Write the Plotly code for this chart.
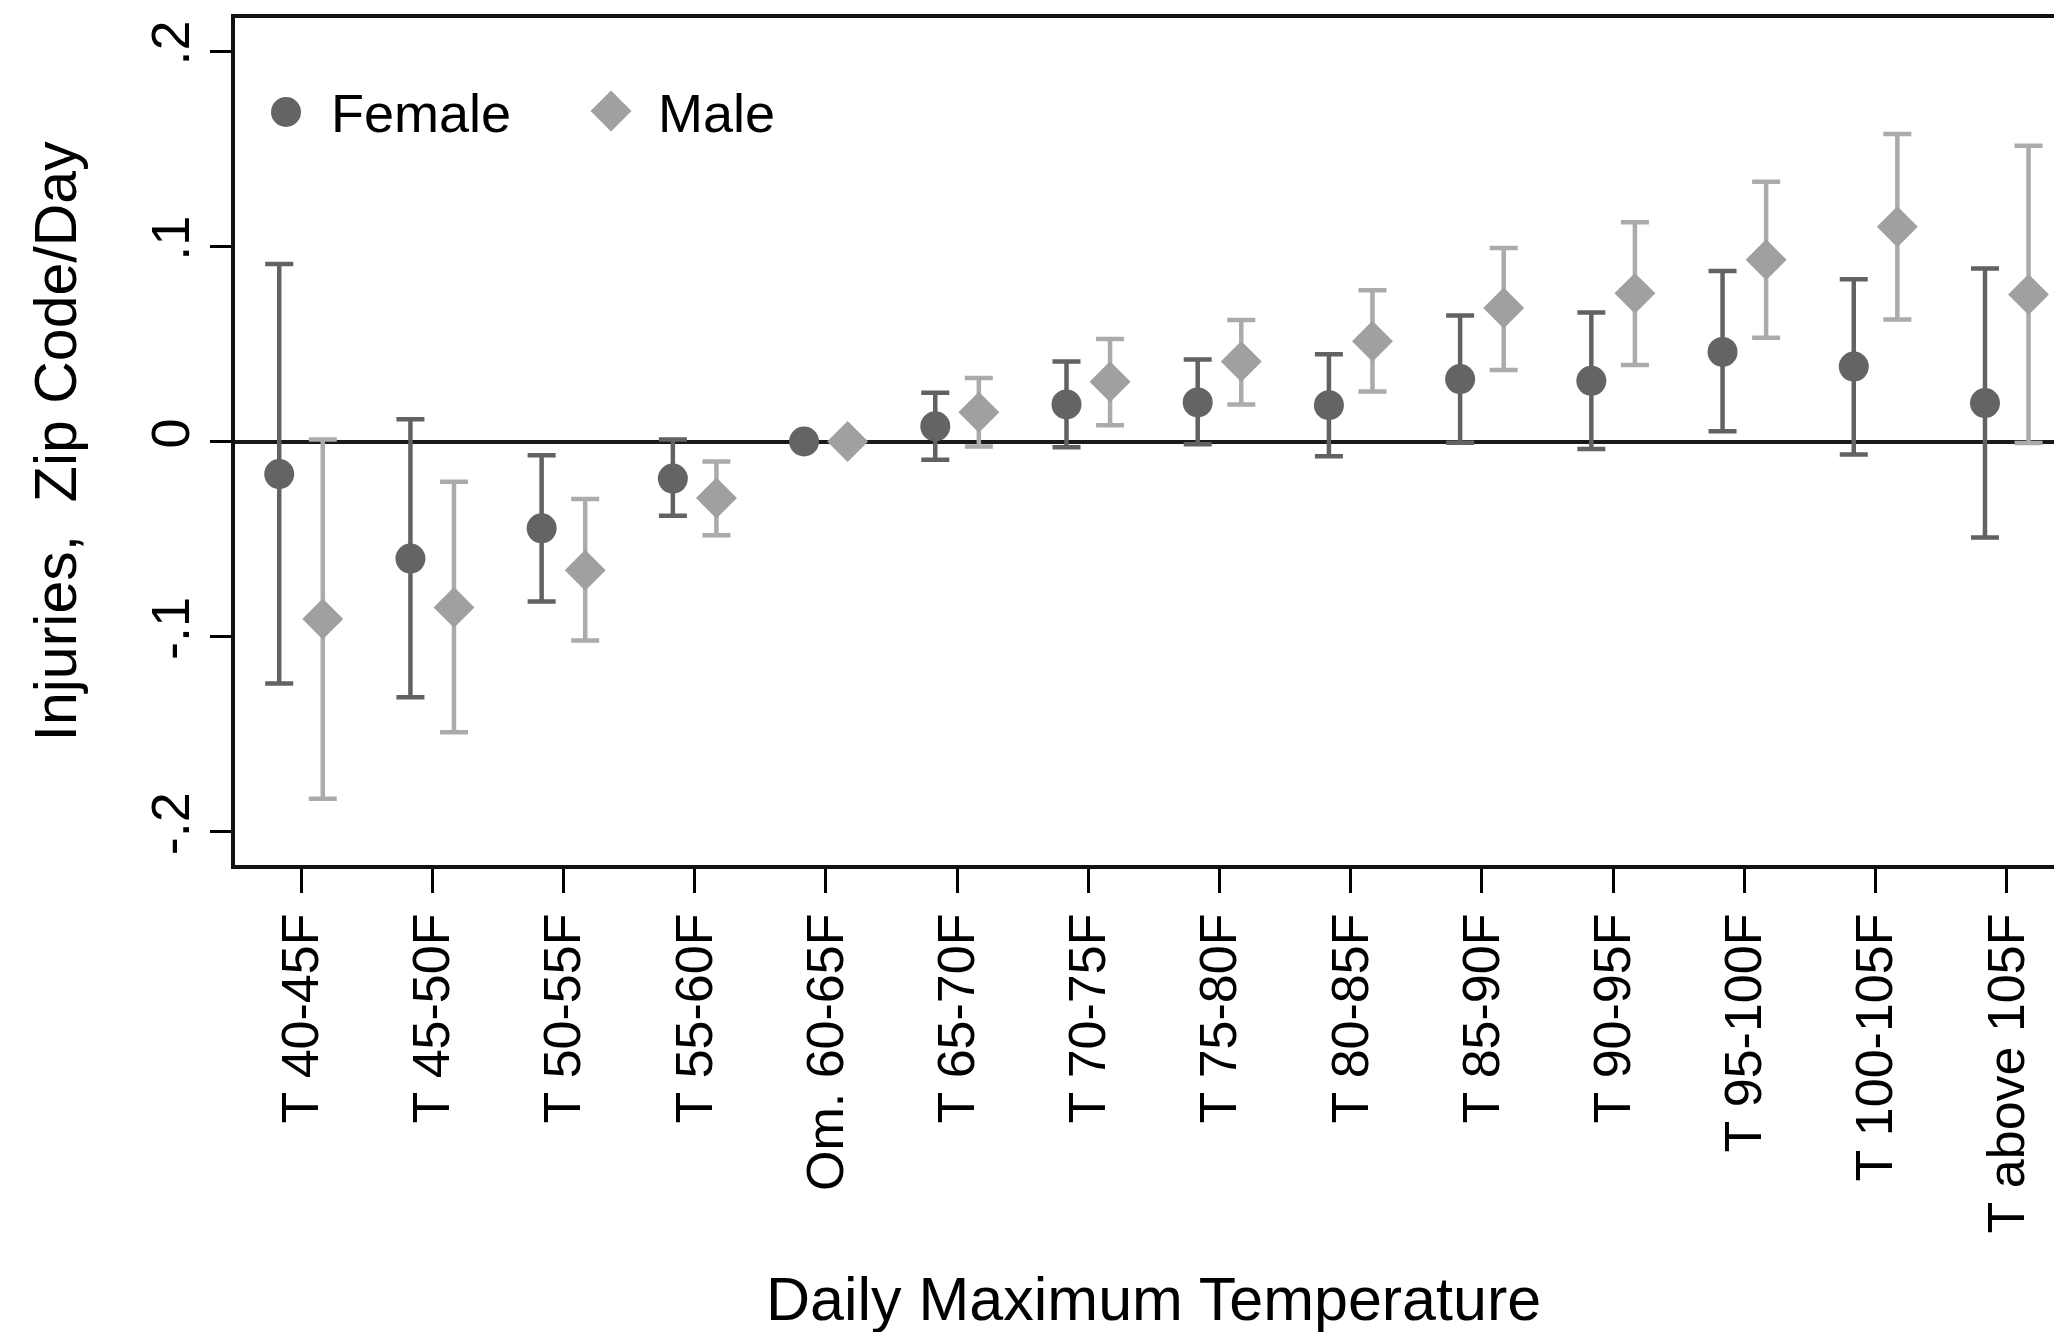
import plotly.graph_objects as go

categories = ["T 40-45F", "T 45-50F", "T 50-55F", "T 55-60F", "Om. 60-65F",
              "T 65-70F", "T 70-75F", "T 75-80F", "T 80-85F", "T 85-90F",
              "T 90-95F", "T 95-100F", "T 100-105F", "T above 105F"]

female_est = [-0.0167, -0.060, -0.0445, -0.019, 0.0, 0.0078, 0.019, 0.020,
              0.0186, 0.032, 0.0311, 0.0459, 0.0384, 0.0197]
female_hi = [0.0909, 0.0114, -0.007, 0.001, 0.0, 0.025, 0.041, 0.042,
             0.0447, 0.0645, 0.0661, 0.0873, 0.0831, 0.0887]
female_lo = [-0.124, -0.131, -0.082, -0.038, 0.0, -0.0094, -0.003, -0.0014,
             -0.0075, -0.0006, -0.0039, 0.0053, -0.0067, -0.0492]

male_est = [-0.091, -0.085, -0.066, -0.029, 0.0, 0.015, 0.0306, 0.041,
            0.0514, 0.0684, 0.0759, 0.0931, 0.110, 0.0753]
male_hi = [0.001, -0.0206, -0.0295, -0.0103, 0.0, 0.0325, 0.0525, 0.0623,
           0.0775, 0.0992, 0.1123, 0.1331, 0.1576, 0.1515]
male_lo = [-0.183, -0.149, -0.102, -0.048, 0.0, -0.0025, 0.0083, 0.019,
           0.0256, 0.0367, 0.0392, 0.0531, 0.0625, -0.0008]

y_tickvals = [-0.2, -0.1, 0.0, 0.1, 0.2]
y_ticktext = ["-.2", "-.1", "0", ".1", ".2"]

FONT = "Liberation Sans, Arial, sans-serif"
F_COL = "#646464"
F_ERR = "#626262"
M_COL = "#a0a0a0"
M_ERR = "#ababab"

idx = list(range(len(categories)))
off = 0.166

fig = go.Figure()
fig.add_trace(go.Scatter(
    x=[i - off for i in idx], y=female_est, mode="markers", name="Female",
    marker=dict(symbol="circle", size=30, color=F_COL, line=dict(width=0)),
    error_y=dict(type="data", symmetric=False,
                 array=[h - e for h, e in zip(female_hi, female_est)],
                 arrayminus=[e - l for e, l in zip(female_est, female_lo)],
                 color=F_ERR, thickness=4.5, width=14),
    showlegend=False))
fig.add_trace(go.Scatter(
    x=[i + off for i in idx], y=male_est, mode="markers", name="Male",
    marker=dict(symbol="diamond", size=31.5, color=M_COL, line=dict(width=0)),
    error_y=dict(type="data", symmetric=False,
                 array=[h - e for h, e in zip(male_hi, male_est)],
                 arrayminus=[e - l for e, l in zip(male_est, male_lo)],
                 color=M_ERR, thickness=4.5, width=14),
    showlegend=False))

W, H = 2054, 1332
L, R, T, B = 235, 0, 18, 467
pw, ph = W - L - R, H - T - B

def px_x(p):
    return (p - L) / pw

def px_y(p):
    return (H - B - p) / ph

shapes = [
    dict(type="circle", xref="paper", yref="paper", xsizemode="pixel", ysizemode="pixel",
         xanchor=px_x(286), yanchor=px_y(112), x0=-15, x1=15, y0=-15, y1=15,
         fillcolor=F_COL, line=dict(width=0)),
    dict(type="path", xref="paper", yref="paper", xsizemode="pixel", ysizemode="pixel",
         xanchor=px_x(611), yanchor=px_y(111),
         path="M -20.5 0 L 0 20.5 L 20.5 0 L 0 -20.5 Z",
         fillcolor=M_COL, line=dict(width=0)),
]

annotations = [
    dict(text="Female", xref="paper", yref="paper", x=px_x(329), y=px_y(113),
         xanchor="left", yanchor="middle", showarrow=False,
         font=dict(family=FONT, size=54, color="black")),
    dict(text="Male", xref="paper", yref="paper", x=px_x(656), y=px_y(113),
         xanchor="left", yanchor="middle", showarrow=False,
         font=dict(family=FONT, size=54, color="black")),
    dict(text="Daily Maximum Temperature", xref="x", yref="paper", x=6.5, y=px_y(1299),
         xanchor="center", yanchor="middle", showarrow=False,
         font=dict(family=FONT, size=61, color="black")),
    dict(text="Injuries,  Zip Code/Day", xref="paper", yref="paper", x=px_x(55), y=0.5,
         xanchor="center", yanchor="middle", textangle=-90, showarrow=False,
         font=dict(family=FONT, size=59, color="black")),
]

fig.update_layout(
    width=W, height=H,
    margin=dict(l=L, r=R, t=T, b=B, pad=0),
    paper_bgcolor="white", plot_bgcolor="white",
    font=dict(family=FONT, color="black"),
    shapes=shapes, annotations=annotations,
    xaxis=dict(range=[-0.503, 13.36], tickmode="array", tickvals=idx, ticktext=categories,
               tickangle=-90, tickfont=dict(size=52, family=FONT, color="black"),
               ticks="outside", ticklen=24, tickwidth=2.5, tickcolor="black",
               showline=True, linecolor="#111", linewidth=3.5, mirror=True,
               showgrid=False, zeroline=False),
    yaxis=dict(range=[-0.217, 0.217], tickmode="array", tickvals=y_tickvals, ticktext=y_ticktext,
               tickangle=-90, tickfont=dict(size=54, family=FONT, color="black"),
               ticks="outside", ticklen=21, tickwidth=2.5, tickcolor="black",
               showline=True, linecolor="#111", linewidth=3.5, mirror=False,
               showgrid=False, zeroline=True, zerolinecolor="#1a1a1a", zerolinewidth=4),
)

fig.write_html("out.html")
